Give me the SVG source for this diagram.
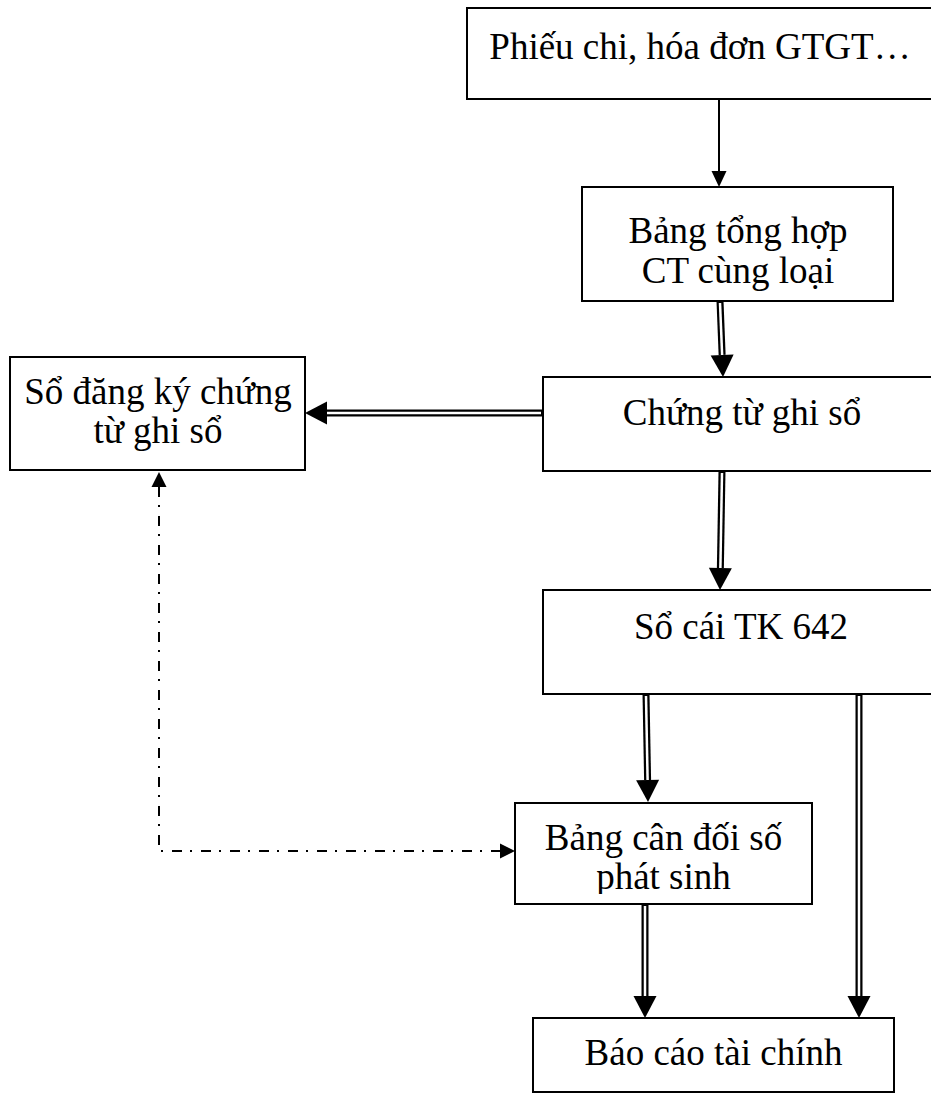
<svg xmlns="http://www.w3.org/2000/svg" width="931" height="1093" viewBox="0 0 931 1093">
  <style>
    .box { fill: #ffffff; stroke: #000000; stroke-width: 2; }
    .lbl { font-family: "Liberation Serif", "Times New Roman", serif; font-size: 37px; fill: #000000; text-anchor: middle; }
    .dblOuter { fill: none; stroke: #000000; stroke-width: 7; }
    .dblInner { fill: none; stroke: #ffffff; stroke-width: 2.5; }
    .single { fill: none; stroke: #000000; stroke-width: 2; }
    .dashdot { fill: none; stroke: #000000; stroke-width: 2; stroke-dasharray: 10 8 2 9; }
  </style>
  <defs>
    <marker id="bigHead" markerUnits="userSpaceOnUse" markerWidth="30" markerHeight="30" refX="0" refY="0" orient="auto" overflow="visible">
      <path d="M0,-11.5 L22,0 L0,11.5 z" fill="#000000"/>
    </marker>
    <marker id="smallHead" markerUnits="userSpaceOnUse" markerWidth="20" markerHeight="20" refX="0" refY="0" orient="auto" overflow="visible">
      <path d="M0,-7.5 L16,0 L0,7.5 z" fill="#000000"/>
    </marker>
    <marker id="ddHead" markerUnits="userSpaceOnUse" markerWidth="20" markerHeight="20" refX="0" refY="0" orient="auto-start-reverse" overflow="visible">
      <path d="M0,-7.5 L15,0 L0,7.5 z" fill="#000000"/>
    </marker>
    <clipPath id="clip6">
      <rect x="515" y="803" width="297" height="91"/>
    </clipPath>
  </defs>

  <g id="connectors">
    <path class="single" d="M719,99 L719,171" marker-end="url(#smallHead)"/>
    <path class="dblOuter" d="M720,301 L722.13,355" marker-end="url(#bigHead)"/>
    <path class="dblInner" d="M720,303 L722.13,355"/>
    <path class="dblOuter" d="M543,413 L327,413" marker-end="url(#bigHead)"/>
    <path class="dblInner" d="M541,413 L327,413"/>
    <path class="dblOuter" d="M722,471 L720.37,568" marker-end="url(#bigHead)"/>
    <path class="dblInner" d="M722,473 L720.37,568"/>
    <path class="dblOuter" d="M646,694 L647.6,780" marker-end="url(#bigHead)"/>
    <path class="dblInner" d="M646,696 L647.6,780"/>
    <path class="dblOuter" d="M859,694 L859,996" marker-end="url(#bigHead)"/>
    <path class="dblInner" d="M859,696 L859,996"/>
    <path class="dblOuter" d="M645,904 L645,996" marker-end="url(#bigHead)"/>
    <path class="dblInner" d="M645,906 L645,996"/>
    <path class="dashdot" d="M159,487 L159,851 L500,851" marker-start="url(#ddHead)" marker-end="url(#ddHead)"/>
  </g>

  <g id="node-phieu-chi">
    <rect class="box" x="467" y="8" width="480" height="91"/>
    <text class="lbl" x="700" y="59">Phiếu chi, hóa đơn GTGT…</text>
  </g>

  <g id="node-bang-tong-hop">
    <rect class="box" x="582" y="187" width="311" height="114"/>
    <text class="lbl" x="738" y="243">Bảng tổng hợp</text>
    <text class="lbl" x="738" y="283">CT cùng loại</text>
  </g>

  <g id="node-chung-tu-ghi-so">
    <rect class="box" x="543" y="377" width="400" height="94"/>
    <text class="lbl" x="742" y="425">Chứng từ ghi sổ</text>
  </g>

  <g id="node-so-dang-ky">
    <rect class="box" x="10" y="357" width="295" height="113"/>
    <text class="lbl" x="158" y="404">Sổ đăng ký chứng</text>
    <text class="lbl" x="158" y="443">từ ghi sổ</text>
  </g>

  <g id="node-so-cai">
    <rect class="box" x="543" y="590" width="400" height="104"/>
    <text class="lbl" x="741" y="639">Sổ cái TK 642</text>
  </g>

  <g id="node-bang-can-doi">
    <rect class="box" x="515" y="803" width="297" height="101"/>
    <g clip-path="url(#clip6)">
      <text class="lbl" x="663.5" y="850">Bảng cân đối số</text>
      <text class="lbl" x="663.5" y="889">phát sinh</text>
    </g>
  </g>

  <g id="node-bao-cao">
    <rect class="box" x="533" y="1018" width="361" height="74"/>
    <text class="lbl" x="713.5" y="1065">Báo cáo tài chính</text>
  </g>
</svg>
